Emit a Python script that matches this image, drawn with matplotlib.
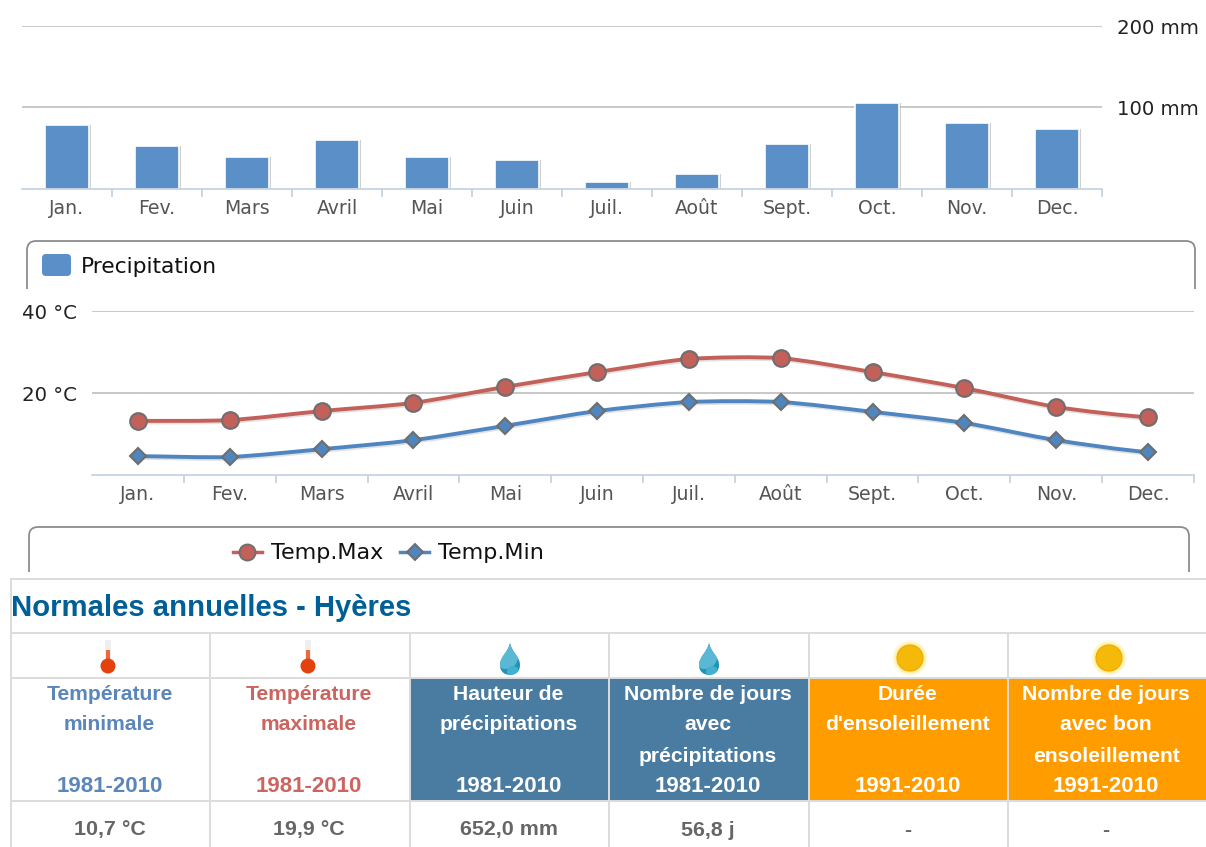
import matplotlib
matplotlib.use('Agg')
import matplotlib.pyplot as plt
import matplotlib.patheffects as pe
from matplotlib.patches import Circle, FancyBboxPatch, PathPatch, Rectangle
from matplotlib.path import Path

# -------- data --------
months_top = ['Jan.', 'Fev.', 'Mars', 'Avril', 'Mai', 'Juin', 'Juil.', 'Août', 'Sept.', 'Oct.', 'Nov.', 'Dec.']
precip = [78, 53, 39, 60, 39, 35.5, 8, 18, 55, 105, 81, 74]
temp_max = [13.2, 13.4, 15.6, 17.6, 21.5, 25.1, 28.3, 28.5, 25.1, 21.2, 16.6, 14.1]
temp_min = [4.6, 4.4, 6.3, 8.5, 12.0, 15.6, 17.8, 17.8, 15.4, 12.7, 8.5, 5.6]

table_title = 'Normales annuelles - Hyères'
headers = [
    ['Température', 'minimale', '', '1981-2010'],
    ['Température', 'maximale', '', '1981-2010'],
    ['Hauteur de', 'précipitations', '', '1981-2010'],
    ['Nombre de jours', 'avec', 'précipitations', '1981-2010'],
    ['Durée', "d'ensoleillement", '', '1991-2010'],
    ['Nombre de jours', 'avec bon', 'ensoleillement', '1991-2010'],
]
values = ['10,7 °C', '19,9 °C', '652,0 mm', '56,8 j', '-', '-']

# colours
BAR = '#5b8fc7'
RED = '#c4605a'
BLUE = '#4f86c0'
GRID = '#c4c4c4'
AXIS = '#c0d0e0'
EDGE = '#6e6e6e'
FRAME = '#8c8c8c'
CELL = '#dcdcdc'
W, H = 1206, 847

fig = plt.figure(figsize=(W / 100, H / 100), dpi=100)
plt.rcParams['font.family'] = ['DejaVu Sans']


def px_axes(left, top, right, bottom):
    return fig.add_axes([left / W, 1 - bottom / H, (right - left) / W, (bottom - top) / H])


def month_axis(ax):
    ax.set_xlim(-0.5, 11.5)
    ax.set_xticks(range(12))
    ax.set_xticklabels(months_top, fontsize=13.6, color='#555555')
    ax.tick_params(axis='x', length=0, pad=7)
    ax.set_xticks([i - 0.5 for i in range(1, 13)], minor=True)
    ax.tick_params(axis='x', which='minor', length=6, color=AXIS, width=1.2)
    ax.tick_params(axis='y', length=0, labelsize=14.2, labelcolor='#222222')
    ax.grid(axis='y', color=GRID, lw=1.3)
    ax.set_axisbelow(True)
    for s in ['top', 'left', 'right']:
        ax.spines[s].set_visible(False)
    ax.spines['bottom'].set_color(AXIS)
    ax.spines['bottom'].set_linewidth(1.2)
    ax.patch.set_alpha(0)


def smooth(xs, ys, k=0.25):
    # bezier path through the points, same idea as a highcharts spline
    verts = [(xs[0], ys[0])]
    codes = [Path.MOVETO]
    n = len(xs)
    for i in range(n - 1):
        s0 = (ys[i + 1] - ys[max(i - 1, 0)]) / 2
        s1 = (ys[min(i + 2, n - 1)] - ys[i]) / 2
        verts += [(xs[i] + k, ys[i] + s0 * k), (xs[i + 1] - k, ys[i + 1] - s1 * k), (xs[i + 1], ys[i + 1])]
        codes += [Path.CURVE4] * 3
    return Path(verts, codes)


# -------- overlay in pixels: frames, table, icons --------
bg = fig.add_axes([0, 0, 1, 1])
bg.set_xlim(0, W)
bg.set_ylim(H, 0)
bg.axis('off')


def open_frame(x0, x1, top, bottom, r=9):
    v = [(x0, bottom), (x0, top + r), (x0, top), (x0 + r, top), (x1 - r, top), (x1, top), (x1, top + r), (x1, bottom)]
    c = [Path.MOVETO, Path.LINETO, Path.CURVE3, Path.CURVE3, Path.LINETO, Path.CURVE3, Path.CURVE3, Path.LINETO]
    bg.add_patch(PathPatch(Path(v, c), fc='none', ec=FRAME, lw=1.3))


open_frame(27, 1195, 241, 289)
open_frame(29, 1189, 527, 572)

bg.add_patch(FancyBboxPatch((44, 256), 25, 18, boxstyle='round,pad=2,rounding_size=4', fc=BAR, ec='none'))
bg.text(81, 267, 'Precipitation', fontsize=15.7, color='#111111', va='center')

# temperature legend
bg.plot([233, 262], [552, 552], color=RED, lw=2.5)
bg.plot([247], [552], 'o', ms=11.5, mfc=RED, mec=EDGE, mew=1.4)
bg.text(271, 553, 'Temp.Max', fontsize=16, color='#111111', va='center')
bg.plot([400, 429], [552, 552], color=BLUE, lw=2.5)
bg.plot([415], [552], 'D', ms=8, mfc=BLUE, mec=EDGE, mew=1.4)
bg.text(438, 553, 'Temp.Min', fontsize=16, color='#111111', va='center')

# table
col_x = [11, 210, 410, 609, 809, 1008, 1206]
row_y = [579, 633, 678, 801]
head_fill = [None, None, '#4a7ba1', '#4a7ba1', '#ff9c00', '#ff9c00']
head_color = ['#5b86bb', '#cc6560', 'white', 'white', 'white', 'white']
line_y = [695, 725, 756, 787]
for i, fill in enumerate(head_fill):
    if fill:
        bg.add_patch(Rectangle((col_x[i], row_y[2]), col_x[i + 1] - col_x[i], row_y[3] - row_y[2], fc=fill, ec='none'))
for y in row_y:
    bg.plot([11, W], [y, y], color=CELL, lw=1.4, solid_capstyle='butt')
bg.plot([11, 11], [579, H], color=CELL, lw=1.4)
for x in col_x[1:-1]:
    bg.plot([x, x], [633, H], color=CELL, lw=1.4)

bg.text(11, 608, table_title, fontsize=21.1, fontweight='bold', color='#005f97', family='Liberation Sans', va='center')
for i, lines in enumerate(headers):
    cx = (col_x[i] + col_x[i + 1]) / 2 - 1
    for y, t in zip(line_y[:3], lines[:3]):
        bg.text(cx, y, t, fontsize=15.2, fontweight='bold', color=head_color[i], family='Liberation Sans', ha='center', va='center')
    bg.text(cx, line_y[3], lines[3], fontsize=16, fontweight='bold', color=head_color[i], family='Liberation Sans', ha='center', va='center')
    bg.text(cx, 830, values[i], fontsize=15.4, fontweight='bold', color='#666666', family='Liberation Sans', ha='center', va='center')


# icons
def thermometer(x):
    bg.add_patch(Rectangle((x - 3, 640), 6, 22, fc='#eeeeee', ec='none'))
    bg.add_patch(Rectangle((x - 2, 650), 4, 14, fc='#ea6a3c', ec='none'))
    bg.add_patch(Circle((x, 666), 7.5, fc='#e3420f', ec='none'))


def drop(x):
    v = [(x, 642), (x - 1, 652), (x - 10, 656), (x - 10, 665), (x - 10, 672), (x - 5, 675), (x, 675),
         (x + 5, 675), (x + 10, 672), (x + 10, 665), (x + 10, 656), (x + 1, 652), (x, 642)]
    c = [Path.MOVETO] + [Path.CURVE4] * 12
    body = PathPatch(Path(v, c), fc='#1f93b8', ec='none')
    bg.add_patch(body)
    light = Circle((x - 4, 657), 12, fc='#5bb8d4', ec='none')
    bg.add_patch(light)
    light.set_clip_path(body)
    low = Circle((x + 3, 672), 6, fc='#43b0cf', ec='none')
    bg.add_patch(low)
    low.set_clip_path(body)


def sun(x):
    for r, a in [(18, 0.12), (16.5, 0.2), (15, 0.35)]:
        bg.add_patch(Circle((x, 658), r, fc='#ffe44d', ec='none', alpha=a))
    bg.add_patch(Circle((x, 658), 13, fc='#f5b90a', ec='#f0a800', lw=0.8))


thermometer(108)
thermometer(308)
drop(510)
drop(709)
sun(910)
sun(1109)

# -------- precipitation bars --------
ax1 = px_axes(22, 26, 1102, 189)
month_axis(ax1)
ax1.set_ylim(0, 200)
ax1.set_yticks([100, 200])
ax1.set_yticklabels(['100 mm', '200 mm'])
ax1.yaxis.tick_right()
ax1.tick_params(axis='y', pad=11)
ax1.bar(range(12), precip, width=0.48, color=BAR, edgecolor='white', linewidth=1.2,
        path_effects=[pe.SimplePatchShadow(offset=(2, 0), shadow_rgbFace='#b0b0b0', alpha=0.6), pe.Normal()])

# -------- temperatures --------
ax2 = px_axes(92, 311, 1194, 475)
month_axis(ax2)
ax2.set_ylim(0, 40)
ax2.set_yticks([20, 40])
ax2.set_yticklabels(['20 °C', '40 °C'])
ax2.tick_params(axis='y', pad=11)
x = list(range(12))
for series, col, mk, ms in [(temp_max, RED, 'o', 12), (temp_min, BLUE, 'D', 8.5)]:
    shadow = [pe.SimpleLineShadow(offset=(0.6, -1.2), shadow_color='#888888', alpha=0.25), pe.Normal()]
    ax2.add_patch(PathPatch(smooth(x, series), fc='none', ec=col, lw=2.8, path_effects=shadow))
    ax2.plot(x, series, mk, ms=ms, mfc=col, mec=EDGE, mew=1.5, zorder=5)

fig.savefig('out.png', dpi=100)
